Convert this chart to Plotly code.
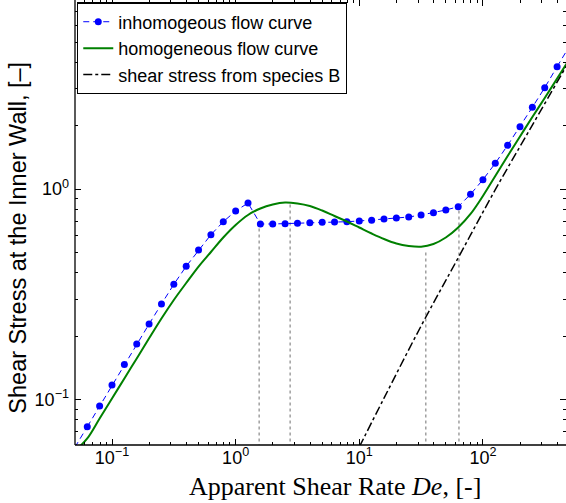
import plotly.graph_objects as go

# Apparent shear rate grid of the simulations (log-spaced, 10 per decade)
rate_inhom = [0.0501, 0.0631, 0.0794, 0.1, 0.1259, 0.1585, 0.1995, 0.2512, 0.3162, 0.3981,
              0.5012, 0.631, 0.7943, 1.0, 1.259, 1.585, 1.995, 2.512, 3.162, 3.981,
              5.012, 6.31, 7.943, 10.0, 12.59, 15.85, 19.95, 25.12, 31.62, 39.81,
              50.12, 63.1, 79.43, 100.0, 125.9, 158.5, 199.5, 251.2, 316.2, 398.1, 501.2]

# Wall shear stress of the (banded) inhomogeneous flow
stress_inhom = [0.0592, 0.0741, 0.0930, 0.1170, 0.1465, 0.1833, 0.2282, 0.2841, 0.3524, 0.4292,
                0.5131, 0.6067, 0.6995, 0.7863, 0.8584, 0.6822, 0.6822, 0.6844, 0.6874, 0.6918,
                0.6949, 0.6973, 0.6995, 0.7049, 0.7103, 0.7205, 0.7285, 0.7365, 0.7527, 0.7720,
                0.7950, 0.8244, 0.9443, 1.108, 1.326, 1.615, 1.980, 2.448, 3.034, 3.818, 4.78]

# Homogeneous (non-monotonic) constitutive flow curve
rate_hom = rate_inhom
stress_hom = [0.0568, 0.0652, 0.0811, 0.1011, 0.1257, 0.1566, 0.1951, 0.2424, 0.2969, 0.3575,
              0.4283, 0.5020, 0.5884, 0.6747, 0.7527, 0.8083, 0.8445, 0.8631, 0.8538, 0.8309,
              0.7907, 0.7445, 0.7010, 0.6565, 0.6147, 0.5787, 0.5509, 0.5360, 0.5318, 0.5480,
              0.5884, 0.6565, 0.7611, 0.9268, 1.1535, 1.436, 1.778, 2.201, 2.710, 3.35, 4.15]

# Contribution of species B to the wall shear stress
rate_B = [10.0, 15.85, 31.62, 63.1, 125.9, 251.2, 501.2]
stress_B = [0.0594, 0.1014, 0.2234, 0.4710, 0.9931, 2.014, 4.076]

# Characteristic shear rates (band onset, stress maximum, stress minimum, band end)
marker_rates = [1.55, 2.76, 34.5, 64.0]
marker_tops = [0.675, 0.858, 0.513, 0.795]

# Decade ticks
x_tickvals = [0.1, 1, 10, 100]
x_ticktext = ["10<sup>\u22121</sup>", "10<sup>0</sup>", "10<sup>1</sup>", "10<sup>2</sup>"]
y_tickvals = [0.1, 1]
y_ticktext = ["10<sup>\u22121</sup>", "10<sup>0</sup>"]

y_floor = 0.0607

FONT = "Liberation Sans, Arial, sans-serif"
BLUE = "#0000ff"
BLUE_DASH = "6px,4px"

fig = go.Figure()

# vertical guides at the characteristic rates
for r, top in zip(marker_rates, marker_tops):
    fig.add_trace(go.Scatter(
        x=[r, r], y=[y_floor * 0.8, top], mode="lines",
        line=dict(color="#a0a0a0", width=1.5, dash="dot"),
        showlegend=False, hoverinfo="skip"))

# the first and last samples lie outside the axes: only their connecting segments show
fig.add_trace(go.Scatter(
    x=rate_inhom[:2] + [None] + rate_inhom[-2:],
    y=stress_inhom[:2] + [None] + stress_inhom[-2:],
    mode="lines", connectgaps=False,
    line=dict(color=BLUE, width=1, dash=BLUE_DASH),
    showlegend=False, hoverinfo="skip"))

fig.add_trace(go.Scatter(
    x=rate_inhom[1:-1], y=stress_inhom[1:-1], mode="lines+markers",
    name="inhomogeous flow curve",
    line=dict(color=BLUE, width=1, dash=BLUE_DASH),
    marker=dict(color=BLUE, size=7, symbol="circle")))

fig.add_trace(go.Scatter(
    x=rate_hom, y=stress_hom, mode="lines", line_shape="spline",
    name="homogeneous flow curve",
    line=dict(color="#008000", width=2)))

fig.add_trace(go.Scatter(
    x=rate_B, y=stress_B, mode="lines", line_shape="spline",
    name="shear stress from species B",
    line=dict(color="#000000", width=1.5, dash="dashdot")))

axis_common = dict(
    type="log", showgrid=False, zeroline=False, showline=False,
    ticks="inside", ticklen=6, tickwidth=1, tickcolor="#000000",
    mirror="ticks", tickmode="array",
    tickfont=dict(family=FONT, size=18, color="#000000"),
    minor=dict(ticks="inside", ticklen=3, tickwidth=1, tickcolor="#000000",
               dtick="D1", showgrid=False),
)

fig.update_xaxes(range=[-1.2993, 2.672], tickvals=x_tickvals, ticktext=x_ticktext, **axis_common)
fig.update_yaxes(range=[-1.2168, 0.8988], tickvals=y_tickvals, ticktext=y_ticktext,
                 ticklabelstandoff=5, **axis_common)

# left and bottom frame lines
fig.add_shape(type="line", xref="paper", yref="paper", x0=0, x1=1, y0=0, y1=0,
              line=dict(color="#000000", width=1.3))
fig.add_shape(type="line", xref="paper", yref="paper", x0=0, x1=0, y0=0, y1=1,
              line=dict(color="#000000", width=1.3))

fig.add_annotation(
    text="Apparent Shear Rate <i>De</i>, [-]", xref="paper", yref="paper",
    x=0.53, y=-0.094, xanchor="center", yanchor="middle", showarrow=False,
    font=dict(family="Liberation Serif, Times New Roman, serif", size=26, color="#000000"))

fig.add_annotation(
    text="Shear Stress at the Inner Wall, [\u2013]", xref="paper", yref="paper",
    x=-0.116, y=0.466, xanchor="center", yanchor="middle", textangle=-90, showarrow=False,
    font=dict(family=FONT, size=23.5, color="#000000"))

fig.update_layout(
    width=566, height=503,
    margin=dict(l=75, r=0, t=0, b=58),
    paper_bgcolor="#ffffff", plot_bgcolor="#ffffff",
    font=dict(family=FONT, size=18, color="#000000"),
    legend=dict(x=0.004, y=0.995, xanchor="left", yanchor="top",
                bgcolor="#ffffff", bordercolor="#000000", borderwidth=1.3,
                font=dict(family=FONT, size=18, color="#000000"),
                tracegroupgap=0, itemwidth=30),
)

fig.write_html("out.html")
